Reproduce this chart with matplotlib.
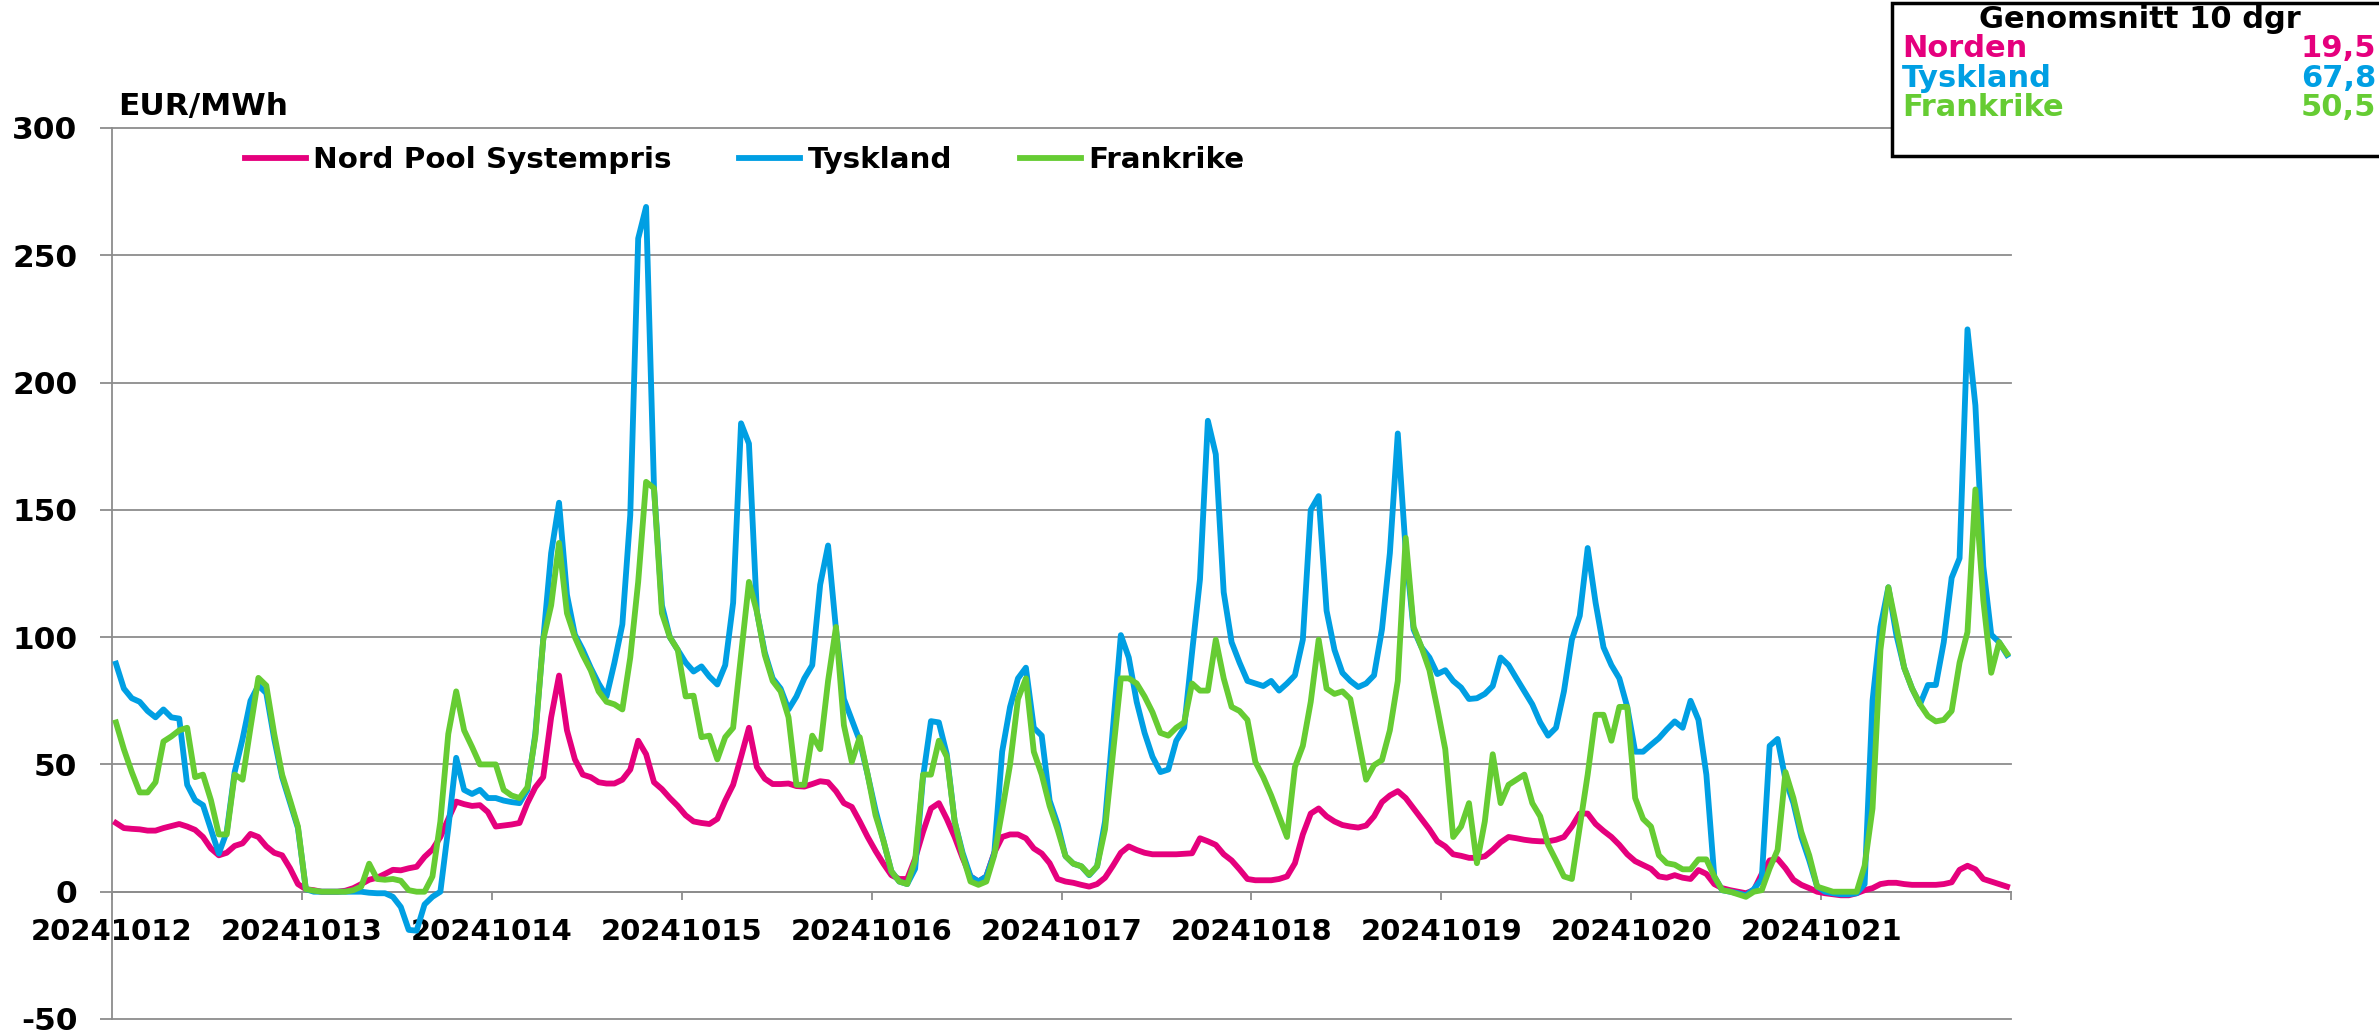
import numpy as np
import matplotlib.pyplot as plt
from matplotlib.patches import Rectangle

# hourly prices, 10 days x 24 h (EUR/MWh)
dates = ['20241012', '20241013', '20241014', '20241015', '20241016',
         '20241017', '20241018', '20241019', '20241020', '20241021']

nordpool = [
    27, 25, 24.7, 24.5, 24, 24, 25, 25.8, 26.6, 25.6, 24.3, 21.5, 17, 14.3, 15.3, 18, 19, 22.7, 21.5, 17.8, 15.3, 14.3, 9.2, 3,
    1, 0.6, 0, 0, 0, 0.4, 1.4, 3, 4.7, 5.5, 7, 8.6, 8.4, 9.2, 9.8, 13.7, 16.6, 21.5, 28.6, 35.4, 34.4, 33.7, 34, 31.3,
    25.6, 26, 26.4, 27, 34.8, 41, 45, 68.5, 84.9, 63.4, 52, 46, 45, 43, 42.5, 42.5, 44, 48, 59.3, 54, 43, 40.3, 36.8, 33.7,
    30, 27.6, 27, 26.6, 28.6, 35.8, 42, 53, 64.4, 49, 44.4, 42.3, 42.3, 42.5, 41.5, 41.3, 42.3, 43.4, 43, 39.5, 34.8, 33.3, 27.6, 21.5,
    16, 11, 6.5, 5, 5, 13, 23.5, 32.7, 34.8, 28.6, 21.5, 13.3, 6, 4, 6, 15.3, 21.5, 22.5, 22.5, 21, 17, 15, 11.2, 5,
    4, 3.5, 2.7, 2, 3, 5.5, 10.2, 15.3, 17.8, 16.4, 15.3, 14.7, 14.7, 14.7, 14.7, 14.9, 15.1, 21, 19.8, 18.4, 14.7, 12.3, 8.8, 5,
    4.5, 4.5, 4.5, 5, 6, 11.2, 22.5, 30.7, 32.7, 29.6, 27.6, 26.2, 25.6, 25.2, 26, 29.6, 35.2, 37.8, 39.5, 36.8, 32.7, 28.6, 24.5, 19.8,
    17.8, 14.7, 14.1, 13.3, 13.3, 13.9, 16.4, 19.4, 21.5, 21, 20.4, 20, 19.8, 19.8, 20.4, 21.5, 25.6, 30.7, 30.7, 26.6, 23.9, 21.5, 18.4, 14.7,
    12, 10.5, 9, 6, 5.5, 6.5, 5.5, 5, 8.5, 7, 3, 1.4, 0.6, 0, -0.6, 0.6, 7, 12.3, 12.9, 9.2, 4.7, 2.7, 1.4, 0,
    -0.6, -1, -1.4, -1.4, -0.6, 0.6, 1.4, 3, 3.5, 3.5, 3, 2.7, 2.7, 2.7, 2.7, 3, 3.7, 8.6, 10.2, 8.8, 5, 4, 3, 2,
]

tyskland = [
    89.6, 79.8, 76, 74.6, 71, 68.5, 71.6, 68.5, 68, 42, 36, 34, 24.5, 15, 23.5, 47, 60, 75, 81, 78, 60, 45, 35, 25,
    1, 0, 0, 0, 0, 0, 0, 0, -0.4, -0.6, -0.6, -2, -6, -15, -15.3, -5, -2, 0, 25, 52.6, 40, 38.4, 40, 36.8,
    36.8, 35.8, 35.2, 34.8, 40, 62, 99, 133, 152.8, 116.6, 101, 95, 88, 81.8, 76.7, 90, 105, 148, 256.6, 269, 158.5, 112.5, 100, 95,
    90, 86.5, 88.5, 84.5, 81.4, 89, 113.5, 184, 176, 110, 94, 83.8, 79.8, 71.6, 76.7, 83.8, 89, 120.6, 136, 103, 75.7, 67.5, 59.3, 46,
    32, 20, 8, 4, 3, 9, 45, 67, 66.5, 54, 27.6, 15.3, 6, 4, 6, 15, 55, 72.6, 83.8, 88, 64.4, 61.3, 35.8, 26.6,
    14, 11, 10, 6.5, 10, 27.6, 64.4, 100.8, 92, 74.6, 62.4, 53, 47, 48, 59.3, 64.4, 94, 122.7, 185, 171.8, 117.6, 98, 90, 82.8,
    81.8, 80.8, 82.8, 79, 81.8, 85, 99, 150, 155.4, 110.4, 95, 86, 82.8, 80.4, 81.8, 85, 103, 133, 180, 134, 103, 96, 92, 85.5,
    87, 82.8, 80.2, 75.7, 76, 77.7, 80.8, 92, 89, 83.8, 78.7, 73.6, 66.5, 61.3, 64.4, 78.7, 99, 108.4, 135, 113.5, 96, 89, 83.8, 72.6,
    55, 55, 57.7, 60.3, 63.8, 66.9, 64.4, 75, 67.5, 46, 6, 0.6, 0, -0.6, -1.4, 1, 5, 57.3, 60, 44, 34.8, 21.5, 12.3, 2,
    0, -0.6, -1, -1, -0.6, 3, 75, 104, 119.6, 101, 88, 79.8, 73.6, 81.2, 81.2, 98, 123.3, 131, 220.9, 191, 127.8, 101, 98, 93,
]

frankrike = [
    66.5, 56, 47, 39, 39, 43, 59, 61, 63.4, 64.4, 45, 46, 36, 22.5, 22.5, 46, 44, 64.4, 84, 81, 62, 46, 36, 25.6,
    1, 0.4, 0, 0, 0, 0, 0.6, 2, 11, 5, 4.7, 5, 4.3, 0.6, 0, 0, 6, 27.6, 62, 78.7, 63.4, 56.9, 50, 50,
    50, 40, 37.8, 36.8, 41, 61, 99, 112.5, 137, 109.4, 100, 93, 87, 78.7, 74.6, 73.6, 71.6, 92, 121.7, 161, 158.5, 109.4, 100, 95,
    76.7, 77, 60.7, 61.3, 52, 60.7, 64.4, 93, 121.7, 110, 93, 82.8, 78.7, 68.5, 42, 42, 61.3, 56, 82.8, 104, 65.4, 51, 60.7, 46,
    30, 20, 8, 4, 3, 12.3, 46, 46, 59.3, 53, 27.6, 14.3, 4, 2.7, 4, 14.3, 31.7, 50, 75.7, 83.8, 55, 46, 33.7, 24.5,
    14, 11, 10, 6.7, 10, 24.5, 54, 83.8, 83.8, 81.8, 76.7, 70.5, 62.4, 61.3, 64.4, 66.5, 81.8, 79, 79, 99, 83.8, 72.6, 71, 67.5,
    51, 45, 37.8, 29.6, 21.5, 49, 57.3, 74.6, 99, 79.8, 77.7, 78.7, 75.7, 60, 44, 49.7, 51.7, 63.4, 82.8, 139, 104, 96, 87, 72,
    56, 21.5, 25.6, 34.8, 11.2, 27.6, 54, 34.8, 42, 44, 46, 34.8, 29.6, 18.4, 12.3, 6, 5, 25.6, 46, 69.5, 69.5, 59.3, 72.6, 72.6,
    36.8, 28.6, 25.6, 14.3, 11.2, 10.6, 8.8, 8.8, 12.7, 12.7, 6, 0.6, 0, -1, -2, 0, 0.6, 9.2, 16.4, 47, 36.8, 23.5, 14.3, 2,
    1, 0, 0, 0, 0, 10.2, 32.7, 95, 119.6, 104.3, 88, 79.8, 73.6, 69, 66.9, 67.5, 71, 90, 102, 158, 114.5, 86, 98, 93.5,
]

avg_names = ['Norden', 'Tyskland', 'Frankrike']
avg_values = ['19,5', '67,8', '50,5']

PINK = '#E5007D'
BLUE = '#009FE3'
GREEN = '#66CC33'
GRID = '#8C8C8C'

plt.rcParams['font.family'] = ['DejaVu Sans']
plt.rcParams['font.weight'] = 'bold'
plt.rcParams['axes.unicode_minus'] = False

W, H = 2379, 1032
fig = plt.figure(figsize=(W / 100, H / 100), dpi=100)
ax = fig.add_axes([112 / W, 1 - 1019 / H, (2011 - 112) / W, (1019 - 128) / H])

x = np.arange(len(nordpool)) + 0.5
ax.plot(x, nordpool, color=PINK, lw=4.2, label='Nord Pool Systempris', zorder=3)
ax.plot(x, tyskland, color=BLUE, lw=4.2, label='Tyskland', zorder=4)
ax.plot(x, frankrike, color=GREEN, lw=4.2, label='Frankrike', zorder=5)

ax.set_xlim(0, len(nordpool))
ax.set_ylim(-50, 300)
ax.set_yticks(np.arange(-50, 301, 50))
ax.yaxis.grid(True, color=GRID, lw=1.3)
for gl in ax.get_ygridlines():
    gl.set_clip_on(False)
ax.set_axisbelow(True)

ax.set_xticks(np.arange(0, len(nordpool) + 1, 24))
ax.set_xticklabels(dates + [''])

for side in ['top', 'right']:
    ax.spines[side].set_visible(False)
ax.spines['left'].set_color(GRID)
ax.spines['left'].set_linewidth(1.3)
ax.spines['bottom'].set_position(('data', 0))
ax.spines['bottom'].set_color(GRID)
ax.spines['bottom'].set_linewidth(1.3)
ax.spines['bottom'].set_zorder(2)

ax.tick_params(axis='y', length=9, width=1.3, color=GRID, pad=16, labelsize=22.5)
ax.tick_params(axis='x', length=6, width=1.3, color=GRID, pad=13, labelsize=21)

ax.legend(loc='center left', bbox_to_anchor=(0.070, 0.964), ncol=3, frameon=False,
          fontsize=21.2, handlelength=2.07, handletextpad=0.25, columnspacing=2.3,
          borderpad=0, borderaxespad=0)

fig.text(118 / W, 1 - 106 / H, 'EUR/MWh', fontsize=22.5, fontweight='bold', va='center', ha='left')

# average box, top right (runs off the right edge)
box = Rectangle((1892 / W, 1 - 156 / H), 0.3, (156 - 3) / H, transform=fig.transFigure,
                facecolor='white', edgecolor='black', lw=2.5, zorder=10)
fig.add_artist(box)
fig.text(2140 / W, 1 - 28 / H, 'Genomsnitt 10 dgr', fontsize=22, fontweight='bold',
         ha='center', va='baseline', zorder=11)
row_base = [57, 87, 116]
for name, val, col, yb in zip(avg_names, avg_values, [PINK, BLUE, GREEN], row_base):
    fig.text(1902 / W, 1 - yb / H, name, color=col, fontsize=22, fontweight='bold',
             ha='left', va='baseline', zorder=11)
    fig.text(2376 / W, 1 - yb / H, val, color=col, fontsize=22, fontweight='bold',
             ha='right', va='baseline', zorder=11)

fig.savefig('out.png', dpi=100, facecolor='white')
